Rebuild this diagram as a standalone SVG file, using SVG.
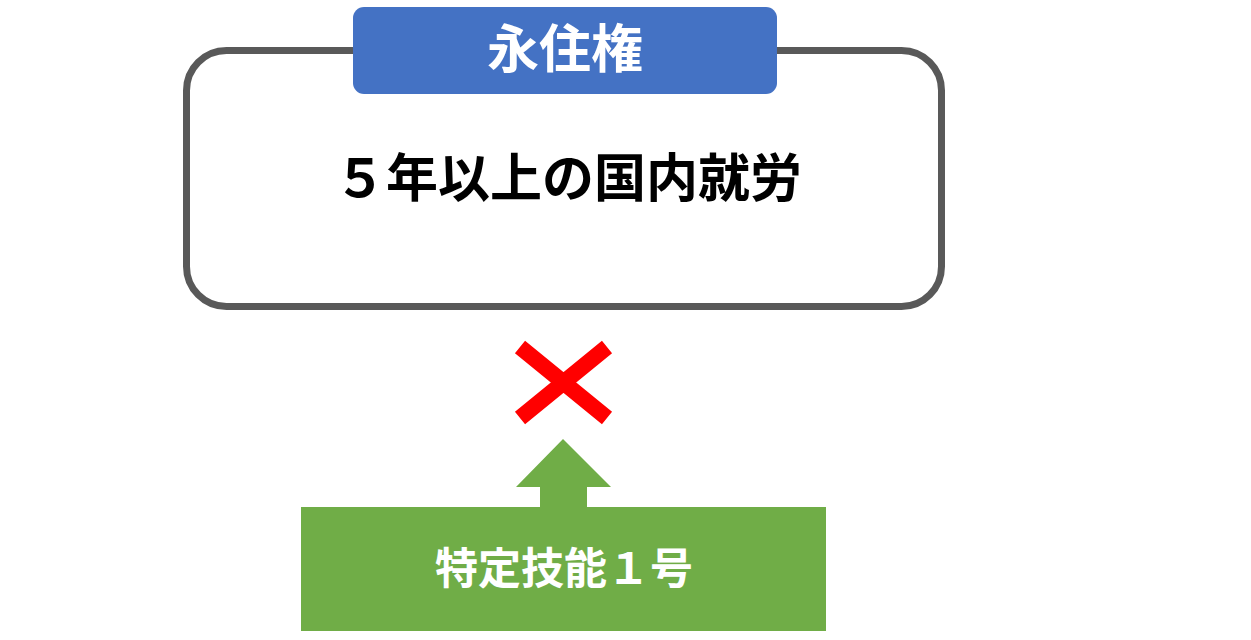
<svg xmlns="http://www.w3.org/2000/svg" width="1251" height="640" viewBox="0 0 1251 640">
<style>
.t{font-family:"Noto Sans CJK JP","Noto Sans CJK SC",sans-serif;font-weight:bold;text-anchor:middle}
</style>
<rect width="1251" height="640" fill="#FFFFFF"/>
<g id="permanent">
<rect x="186.5" y="50.5" width="755" height="256" rx="40" ry="40" fill="#FFFFFF" stroke="#595959" stroke-width="7"/>
<text class="t" x="568" y="197" font-size="52" fill="#000000">５年以上の国内就労</text>
</g>
<g id="label">
<rect x="353" y="7" width="424" height="87" rx="11" ry="11" fill="#4472C4"/>
<text class="t" x="565" y="68" font-size="52" fill="#FFFFFF">永住権</text>
</g>
<g id="cross">
<path d="M520 347 L607 418 M607 347 L520 418" stroke="#FF0000" stroke-width="16" fill="none"/>
</g>
<g id="connectors">
<path d="M563 439 L611 487 L587 487 L587 508 L540 508 L540 487 L516 487 Z" fill="#70AD47"/>
</g>
<g id="tokutei">
<rect x="301" y="507" width="525" height="124" fill="#70AD47"/>
<text class="t" x="564" y="584" font-size="43" fill="#FFFFFF">特定技能１号</text>
</g>
</svg>
